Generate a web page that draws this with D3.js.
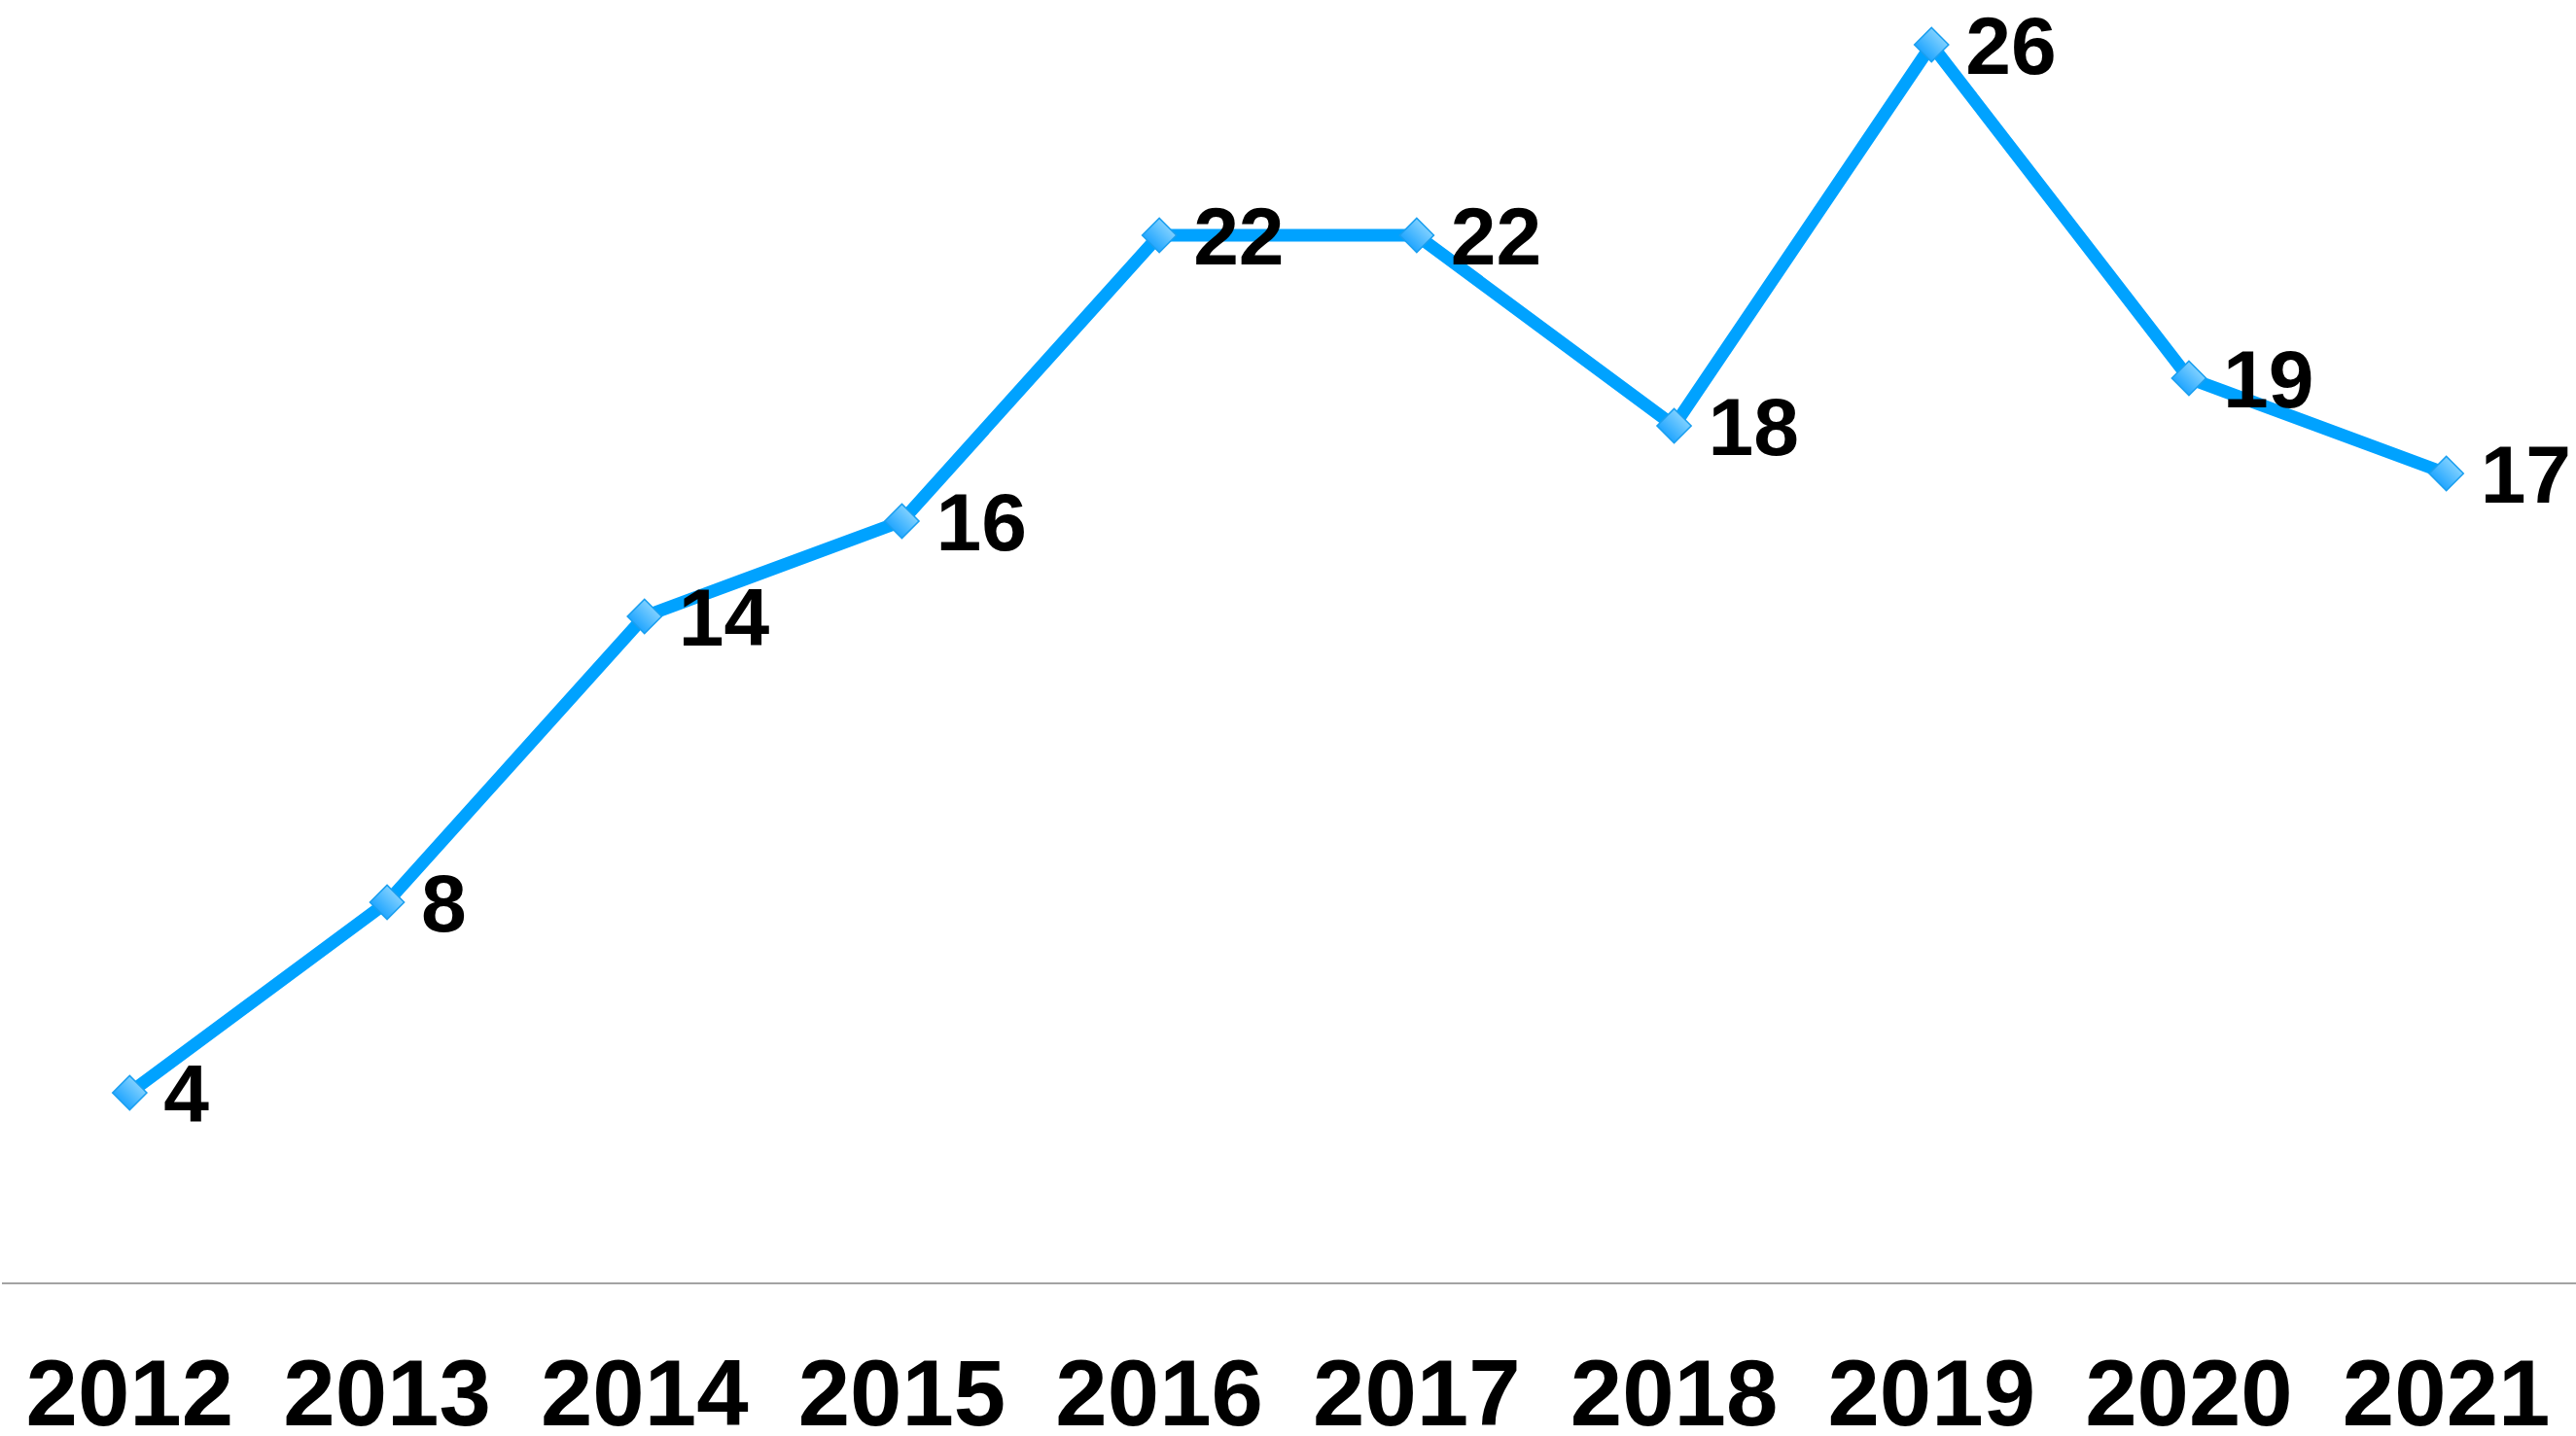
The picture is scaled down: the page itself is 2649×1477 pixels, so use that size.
<!DOCTYPE html>
<html>
<head>
<meta charset="utf-8">
<script src="https://cdn.jsdelivr.net/npm/d3@7"></script>
<style>
  html, body { margin: 0; padding: 0; background: #ffffff; }
  svg { display: block; }
</style>
</head>
<body>
<svg id="chart" width="2649" height="1477"></svg>
<script>
const years = ["2012", "2013", "2014", "2015", "2016", "2017", "2018", "2019", "2020", "2021"];
const counts = [4, 8, 14, 16, 22, 22, 18, 26, 19, 17];
const yDomain = [0, 27];

const W = 2649, H = 1477;
const svg = d3.select("#chart");

const x = d3.scaleBand().domain(years).range([1, 2648]).padding(0);
const y = d3.scaleLinear().domain(yDomain).range([1320, -3]);

const defs = svg.append("defs");
const grad = defs.append("linearGradient")
  .attr("id", "mk").attr("x1", 0).attr("y1", 0).attr("x2", 0).attr("y2", 1);
grad.append("stop").attr("offset", "0%").attr("stop-color", "#7fd0ff");
grad.append("stop").attr("offset", "100%").attr("stop-color", "#22a6ff");

// x axis
const xAxis = d3.axisBottom(x).tickSize(0).tickPadding(0);
const gx = svg.append("g").attr("transform", `translate(0,${y(0)})`).call(xAxis);
gx.select(".domain").attr("stroke", "#a3a3a3").attr("stroke-width", 2)
  .attr("d", `M2,0H${W}`);
gx.selectAll(".tick text")
  .attr("y", 146)
  .attr("dy", 0)
  .attr("fill", "#000")
  .style("font-family", "'Liberation Sans', Arial, sans-serif")
  .style("font-weight", "bold")
  .style("font-size", "96px");

const data = years.map((yr, i) => ({ yr, v: counts[i] }));
const cx = d => x(d.yr) + x.bandwidth() / 2;

svg.append("path")
  .datum(data)
  .attr("fill", "none")
  .attr("stroke", "#00a2ff")
  .attr("stroke-width", 13)
  .attr("stroke-linejoin", "miter")
  .attr("d", d3.line().x(cx).y(d => y(d.v)));

const sym = d3.symbol().type(d3.symbolSquare).size(620);
svg.append("g").selectAll("path")
  .data(data).join("path")
  .attr("d", sym)
  .attr("transform", d => `translate(${cx(d)},${y(d.v)}) rotate(45)`)
  .attr("fill", "url(#mk)")
  .attr("stroke", "#1a9ff0")
  .attr("stroke-width", 1.5);

svg.append("g").selectAll("text")
  .data(data).join("text")
  .attr("x", d => cx(d) + 35)
  .attr("y", d => y(d.v))
  .attr("dy", "0.36em")
  .attr("fill", "#000")
  .style("font-family", "'Liberation Sans', Arial, sans-serif")
  .style("font-weight", "bold")
  .style("font-size", "84px")
  .text(d => d.v);
</script>
</body>
</html>
